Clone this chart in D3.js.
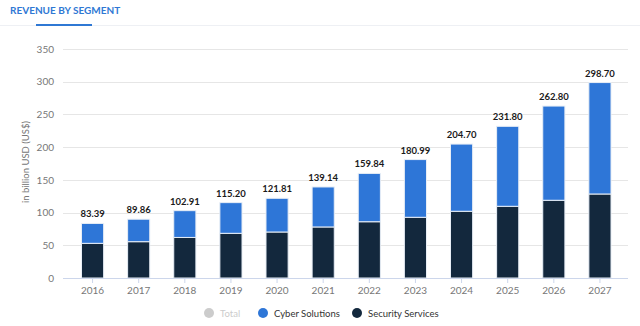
<!DOCTYPE html>
<html>
<head>
<meta charset="utf-8">
<script src="https://cdn.jsdelivr.net/npm/d3@7"></script>
<style>
  body { margin: 0; background: #fff; }
  svg { display: block; font-family: Lato, "Open Sans", sans-serif; }
</style>
</head>
<body>
<svg id="chart" width="640" height="326"></svg>
<script>
// chart data
var years = ["2016", "2017", "2018", "2019", "2020", "2021", "2022", "2023", "2024", "2025", "2026", "2027"];
var totals = [83.39, 89.86, 102.91, 115.20, 121.81, 139.14, 159.84, 180.99, 204.70, 231.80, 262.80, 298.70];
var securityServices = [53, 55.5, 62, 68.3, 70.3, 78, 86, 92.8, 102, 109.6, 118.8, 128.4];
var cyberSolutions = [30.39, 34.36, 40.91, 46.9, 51.51, 61.14, 73.84, 88.19, 102.7, 122.2, 144, 170.3];
var yTicks = [0, 50, 100, 150, 200, 250, 300, 350];
var legendItems = ["Total", "Cyber Solutions", "Security Services"];

var BLUE = "#2e76d7";
var NAVY = "#13283d";

var svg = d3.select("#chart");

// header tab
svg.append("text")
    .attr("x", 10).attr("y", 14)
    .attr("fill", "#2f78d4")
    .attr("font-size", 10).attr("font-weight", 700)
    .text("REVENUE BY SEGMENT");
svg.append("line")
    .attr("x1", 0).attr("x2", 640).attr("y1", 25.5).attr("y2", 25.5)
    .attr("stroke", "#eef0f4").attr("stroke-width", 1);
svg.append("rect")
    .attr("x", 36).attr("y", 24).attr("width", 56).attr("height", 2)
    .attr("fill", "#2f78d4");

var x = d3.scaleBand().domain(years).range([69.5, 623]).paddingInner(0.52).paddingOuter(0.26);
var y = d3.scaleLinear().domain([0, 350]).range([278, 49]);

// grid
svg.append("g").selectAll("line").data(yTicks.slice(1)).join("line")
    .attr("x1", 63).attr("x2", 628)
    .attr("y1", function(d) { return Math.round(y(d)) + 0.5; })
    .attr("y2", function(d) { return Math.round(y(d)) + 0.5; })
    .attr("stroke", "#e6e6e6");

// y axis labels
var yAxis = svg.append("g").attr("transform", "translate(54,0)")
    .call(d3.axisLeft(y).tickValues(yTicks).tickSize(0).tickPadding(0));
yAxis.select(".domain").remove();
yAxis.selectAll("text").attr("fill", "#777").attr("font-size", 10)
    .attr("font-family", "Lato, sans-serif");

svg.append("text")
    .attr("transform", "translate(29,162) rotate(-90)")
    .attr("text-anchor", "middle")
    .attr("fill", "#777").attr("font-size", 9.5)
    .text("in billion USD (US$)");

// stacked bars
var rows = years.map(function(yr, i) {
    return { year: yr, security: securityServices[i], cyber: cyberSolutions[i], total: totals[i] };
});
var stack = d3.stack().keys(["security", "cyber"])(rows);
var colors = { security: NAVY, cyber: BLUE };

svg.append("g").selectAll("g").data(stack).join("g")
    .attr("fill", function(s) { return colors[s.key]; })
    .selectAll("rect").data(function(s) { return s; }).join("rect")
    .attr("x", function(d) { return x(d.data.year); })
    .attr("width", x.bandwidth())
    .attr("y", function(d) { return y(d[1]); })
    .attr("height", function(d) { return y(d[0]) - y(d[1]); })
    .attr("stroke", "#e8eef6").attr("stroke-width", 1);

// total labels
svg.append("g").selectAll("text").data(rows).join("text")
    .attr("x", function(d) { return x(d.year) + x.bandwidth() / 2; })
    .attr("y", function(d) { return y(d.total) - 6; })
    .attr("text-anchor", "middle")
    .attr("fill", "#1a1a1a").attr("font-size", 9.5).attr("font-weight", 700)
    .text(function(d) { return d.total.toFixed(2); });

// x axis
var xAxis = svg.append("g").attr("transform", "translate(0,278)")
    .call(d3.axisBottom(x).tickSize(5).tickSizeOuter(0).tickPadding(4));
xAxis.select(".domain").attr("d", "M63,0.5H628").attr("stroke", "#ccd6eb");
xAxis.selectAll(".tick line").attr("stroke", "#ccd6eb");
xAxis.selectAll("text").attr("fill", "#777").attr("font-size", 10)
    .attr("font-family", "Lato, sans-serif");

// legend
var legendX = [209, 263, 357];
var legendDot = ["#cccccc", BLUE, NAVY];
var legendText = ["#cccccc", "#333", "#333"];
var legend = svg.append("g").selectAll("g").data(legendItems).join("g")
    .attr("transform", function(d, i) { return "translate(" + legendX[i] + ",313)"; });
legend.append("circle").attr("r", 5).attr("fill", function(d, i) { return legendDot[i]; });
legend.append("text")
    .attr("x", 11).attr("y", 3.5)
    .attr("font-size", 9.5)
    .attr("fill", function(d, i) { return legendText[i]; })
    .text(function(d) { return d; });
</script>
</body>
</html>
